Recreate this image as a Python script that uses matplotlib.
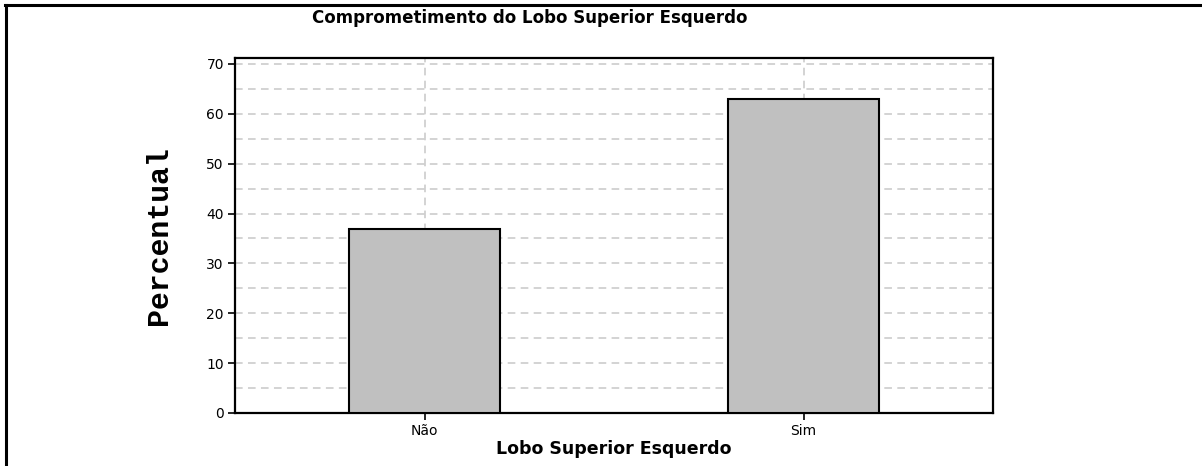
import matplotlib.pyplot as plt
from matplotlib.lines import Line2D
from matplotlib.ticker import MultipleLocator

categories = ['Não', 'Sim']
percentual = [37.0, 63.0]
y_ticks = [0, 10, 20, 30, 40, 50, 60, 70]

W, H = 1202, 466
fig = plt.figure(figsize=(W / 100, H / 100), dpi=100)
fig.patch.set_facecolor('white')

# plot area in pixels: x 235..993, y 58..413
ax = fig.add_axes([235 / W, 1 - 413 / H, (993 - 235) / W, (413 - 58) / H])

x = range(len(categories))
ax.bar(x, percentual, width=0.4, color='#c0c0c0', edgecolor='black', linewidth=1.5, zorder=3)

ax.set_xlim(-0.5, 1.5)
ax.set_ylim(0, 71.2)
ax.set_xticks(list(x))
ax.set_xticklabels(categories, fontsize=10, family='DejaVu Sans')
ax.set_yticks(y_ticks)
ax.set_yticklabels([str(v) for v in y_ticks], fontsize=10, family='DejaVu Sans')
ax.yaxis.set_minor_locator(MultipleLocator(5))
ax.tick_params(axis='y', which='minor', length=0)
ax.tick_params(axis='both', which='major', length=5, width=1.2, direction='out', pad=3)

ax.grid(True, which='both', axis='y', color='#c8c8c8', linestyle=(0, (5, 3.5)), linewidth=1.1, zorder=0)
ax.grid(True, which='major', axis='x', color='#c8c8c8', linestyle=(0, (5, 3.5)), linewidth=1.1, zorder=0)

for side in ['left', 'bottom', 'right', 'top']:
    ax.spines[side].set_linewidth(1.6)
    ax.spines[side].set_color('black')

ax.set_ylabel('Percentual', fontsize=21.5, fontweight='bold', family='Liberation Mono', labelpad=24)
ax.set_xlabel('Lobo Superior Esquerdo', fontsize=12.5, fontweight='bold', family='DejaVu Sans', labelpad=1)

fig.text(530 / W, 1 - 18 / H, 'Comprometimento do Lobo Superior Esquerdo', ha='center', va='center',
         fontsize=12, fontweight='bold', family='DejaVu Sans')

# frame lines around the picture (top and left only)
fig.add_artist(Line2D([5 / W, 1], [1 - 5 / H, 1 - 5 / H], color='black', linewidth=2.2, transform=fig.transFigure))
fig.add_artist(Line2D([6 / W, 6 / W], [0, 1 - 5 / H], color='black', linewidth=2.2, transform=fig.transFigure))

fig.savefig('out.png', dpi=100)
